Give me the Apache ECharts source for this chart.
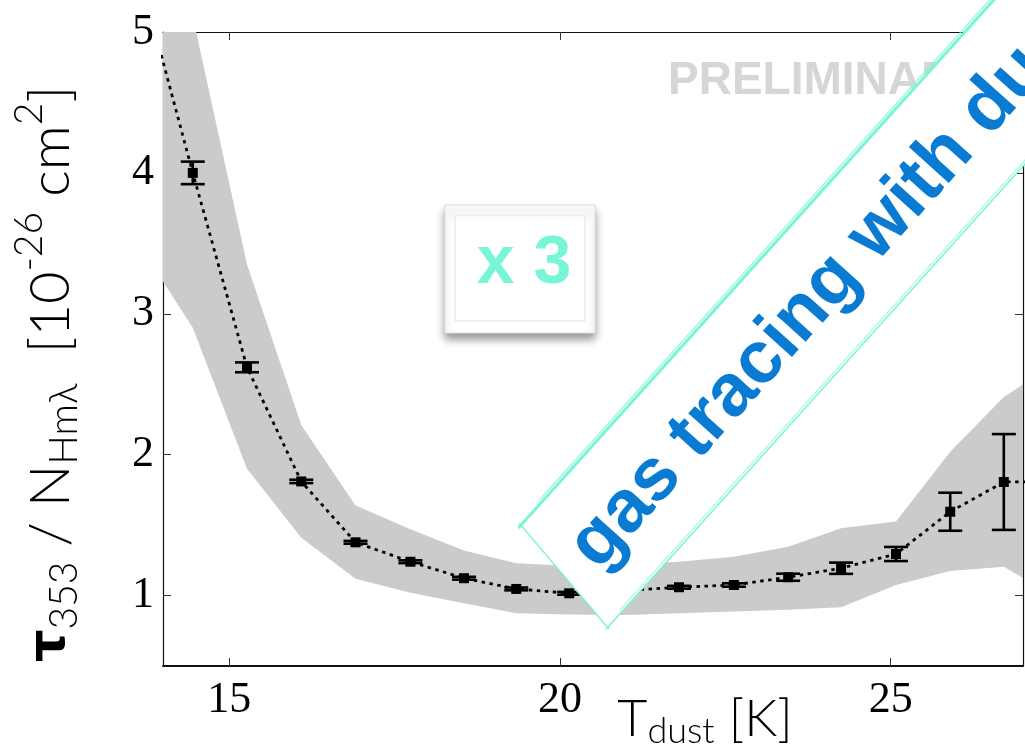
<!DOCTYPE html>
<html>
<head>
<meta charset="utf-8">
<script src="https://cdn.jsdelivr.net/npm/echarts@6/dist/echarts.min.js"></script>
<style>
html,body{margin:0;padding:0;background:#fff;}
#chart{width:1025px;height:746px;}
</style>
</head>
<body>
<div id="chart"></div>
<script>
// ---- data ----
const tempK    = [13.63, 14.45, 15.27, 16.09, 16.91, 17.74, 18.55, 19.34, 20.14, 21.0, 21.8, 22.63, 23.45, 24.25, 25.08, 25.9, 26.71, 27.53];
const ratio    = [5.44, 4.00, 2.62, 1.81, 1.378, 1.24, 1.123, 1.047, 1.016, 1.035, 1.059, 1.075, 1.13, 1.194, 1.295, 1.595, 1.806, 1.81];
const ratioErr = [0.10, 0.08, 0.035, 0.012, 0.01, 0.01, 0.01, 0.01, 0.01, 0.01, 0.01, 0.012, 0.025, 0.04, 0.05, 0.135, 0.34, 0.5];
const bandLow  = [3.50, 2.90, 1.90, 1.41, 1.12, 1.02, 0.945, 0.874, 0.866, 0.862, 0.874, 0.886, 0.90, 0.917, 1.075, 1.175, 1.205, 0.976];
const bandHigh = [6.3, 5.11, 3.35, 2.21, 1.64, 1.47, 1.32, 1.23, 1.21, 1.22, 1.24, 1.276, 1.347, 1.478, 1.525, 2.02, 2.41, 2.66];
const xTicks = [15, 20, 25];
const yTicks = [1, 2, 3, 4, 5];

const chart = echarts.init(document.getElementById('chart'));
const TEAL = '#78f5d6';
const sansLight = 'Lato';
const tickFont = {fontFamily: 'Liberation Serif', fontSize: 44, color: '#000'};

const d = [Math.cos(48 * Math.PI / 180), -Math.sin(48 * Math.PI / 180)];
function along(p, t, off) {
  return [p[0] + d[0] * t + (-d[1]) * off, p[1] + d[1] * t + d[0] * off];
}
const P1 = [521, 525], P2 = [608, 627];
const L = 950;

function edgeLine(a, b, w, op) {
  return {type: 'line', z: 101, shape: {x1: a[0], y1: a[1], x2: b[0], y2: b[1]},
          style: {stroke: TEAL, lineWidth: w, opacity: op}};
}

const option = {
  animation: false,
  backgroundColor: '#fff',
  grid: {left: 163, right: 2, top: 32, bottom: 80, containLabel: false, outerBoundsMode: 'none'},
  xAxis: [{
    type: 'value', min: 14, max: 27, position: 'bottom',
    axisLine: {show: true, onZero: false, lineStyle: {color: '#111', width: 2}},
    axisTick: {show: true, inside: true, length: 8, customValues: xTicks, lineStyle: {color: '#333', width: 1}},
    axisLabel: Object.assign({customValues: xTicks, margin: 12}, tickFont),
    splitLine: {show: false},
    name: '{m|T}{s|dust}{m| [K]}',
    nameLocation: 'middle', nameGap: 24, nameMoveOverlap: false,
    nameTextStyle: {
      padding: [0, 0, 0, 224],
      rich: {
        m: {fontFamily: sansLight, fontWeight: 300, fontSize: 52, color: '#000', verticalAlign: 'middle'},
        s: {fontFamily: sansLight, fontWeight: 300, fontSize: 36, color: '#000', verticalAlign: 'middle', padding: [23, 0, 0, 0]}
      }
    }
  }, {
    type: 'value', min: 14, max: 27, position: 'top',
    axisLine: {show: true, onZero: false, lineStyle: {color: '#111', width: 1.2}},
    axisTick: {show: true, inside: true, length: 8, customValues: xTicks, lineStyle: {color: '#333', width: 1}},
    axisLabel: {show: false}, splitLine: {show: false}
  }],
  yAxis: [{
    type: 'value', min: 0.5, max: 5, position: 'left',
    axisLine: {show: true, onZero: false, lineStyle: {color: '#111', width: 1.2}},
    axisTick: {show: true, inside: true, length: 8, customValues: yTicks, lineStyle: {color: '#333', width: 1}},
    axisLabel: Object.assign({customValues: yTicks, margin: 9}, tickFont),
    splitLine: {show: false},
    name: '{t|τ}{s|353}{m| / N}{s|Hmλ}{m|  [10}{p|-26}{m| cm}{p|2}{m|]}',
    nameLocation: 'middle', nameRotate: 90, nameGap: 72, nameMoveOverlap: false,
    nameTextStyle: {
      padding: [0, 50, 0, 0],
      rich: {
        t: {fontFamily: 'DejaVu Sans', fontWeight: 'bold', fontSize: 51, color: '#000', verticalAlign: 'middle'},
        m: {fontFamily: sansLight, fontWeight: 300, fontSize: 56, color: '#000', verticalAlign: 'middle'},
        s: {fontFamily: sansLight, fontWeight: 300, fontSize: 39, color: '#000', verticalAlign: 'middle', padding: [27, 0, 0, 0]},
        p: {fontFamily: sansLight, fontWeight: 300, fontSize: 39, color: '#000', verticalAlign: 'middle', padding: [0, 0, 42, 0]}
      }
    }
  }, {
    type: 'value', min: 0.5, max: 5, position: 'right',
    axisLine: {show: true, onZero: false, lineStyle: {color: '#111', width: 1.2}},
    axisTick: {show: true, inside: true, length: 8, customValues: yTicks, lineStyle: {color: '#333', width: 1}},
    axisLabel: {show: false}, splitLine: {show: false}
  }],
  series: [{
    type: 'custom', name: 'band', z: 1, clip: true, silent: true,
    xAxisIndex: 0, yAxisIndex: 0,
    data: tempK.map((t, i) => [t, bandLow[i], bandHigh[i]]),
    encode: {x: 0, y: [1, 2]},
    renderItem: function (params, api) {
      if (params.dataIndex !== 0) return;
      const pts = [];
      for (let i = 0; i < tempK.length; i++) pts.push(api.coord([tempK[i], bandHigh[i]]));
      for (let i = tempK.length - 1; i >= 0; i--) pts.push(api.coord([tempK[i], bandLow[i]]));
      return {type: 'polygon', shape: {points: pts}, style: {fill: '#cbcbcb', stroke: null}};
    }
  }, {
    type: 'line', name: 'ratio', z: 3, clip: true, silent: true,
    xAxisIndex: 0, yAxisIndex: 0,
    data: tempK.map((t, i) => [t, ratio[i]]),
    symbol: 'none',
    lineStyle: {color: '#000', width: 2.8, type: [3.5, 4.5]}
  }, {
    type: 'custom', name: 'errors', z: 4, clip: true, silent: true,
    xAxisIndex: 0, yAxisIndex: 0,
    data: tempK.map((t, i) => [t, ratio[i], ratioErr[i]]),
    encode: {x: 0, y: 1},
    renderItem: function (params, api) {
      const x = api.value(0), y = api.value(1), e = api.value(2);
      const c = api.coord([x, y]);
      const hi = api.coord([x, y + e]);
      const lo = api.coord([x, y - e]);
      const hw = 12;
      const st = {stroke: '#000', lineWidth: 2.6};
      return {type: 'group', children: [
        {type: 'line', shape: {x1: c[0], y1: hi[1], x2: c[0], y2: lo[1]}, style: st},
        {type: 'line', shape: {x1: c[0] - hw, y1: hi[1], x2: c[0] + hw, y2: hi[1]}, style: st},
        {type: 'line', shape: {x1: c[0] - hw, y1: lo[1], x2: c[0] + hw, y2: lo[1]}, style: st},
        {type: 'rect', shape: {x: c[0] - 5, y: c[1] - 5, width: 10, height: 10}, style: {fill: '#000'}}
      ]};
    }
  }],
  graphic: [
    {type: 'text', z: 50, x: 668, y: 81,
     style: {text: 'PRELIMINARY', font: 'bold 46px "Liberation Sans"', fill: '#d6d6d6', align: 'left', verticalAlign: 'middle'}},
    {type: 'rect', z: 50, shape: {x: 445, y: 205, width: 150, height: 128},
     style: {fill: '#fff', stroke: '#dedede', lineWidth: 1, shadowBlur: 8, shadowOffsetY: 6, shadowColor: 'rgba(0,0,0,0.4)'}},
    {type: 'rect', z: 51, shape: {x: 455, y: 215, width: 130, height: 106},
     style: {fill: 'none', stroke: '#ebebeb', lineWidth: 1.5}},
    {type: 'text', z: 52, x: 524, y: 264,
     style: {text: 'x 3', font: 'bold 68px "Liberation Sans"', fill: TEAL, align: 'center', verticalAlign: 'middle'}},
    {type: 'polygon', z: 100,
     shape: {points: [P1, P2, along(P2, L, 0), along(P1, L, 0)]},
     style: {fill: '#fff', stroke: null}},
    edgeLine(along(P1, -4, 0), along(P1, L, 0), 3, 1),
    edgeLine(along(P1, 30, -3), along(P1, L, -3), 1.3, 0.8),
    edgeLine(along(P2, -3, 0), along(P2, L, 0), 1.5, 1),
    edgeLine(along(P2, 20, -2.5), along(P2, L, -2.5), 1.2, 0.7),
    edgeLine([P1[0] - 2, P1[1] - 2], [P2[0] + 1, P2[1] + 2], 1.4, 0.9),
    edgeLine([P1[0] + 1, P1[1] + 1], [P2[0] - 2, P2[1] - 1], 1, 0.6),
    {type: 'group', z: 102, x: (P1[0] + P2[0]) / 2, y: (P1[1] + P2[1]) / 2, rotation: 48 * Math.PI / 180,
     children: [
       {type: 'text', z: 102, x: 26, y: 2,
        style: {text: 'gas tracing with dust', font: 'bold 74px "Liberation Sans"', fill: '#0a7bd3', align: 'left', verticalAlign: 'middle'}}
     ]}
  ]
};
chart.setOption(option);
</script>
</body>
</html>
